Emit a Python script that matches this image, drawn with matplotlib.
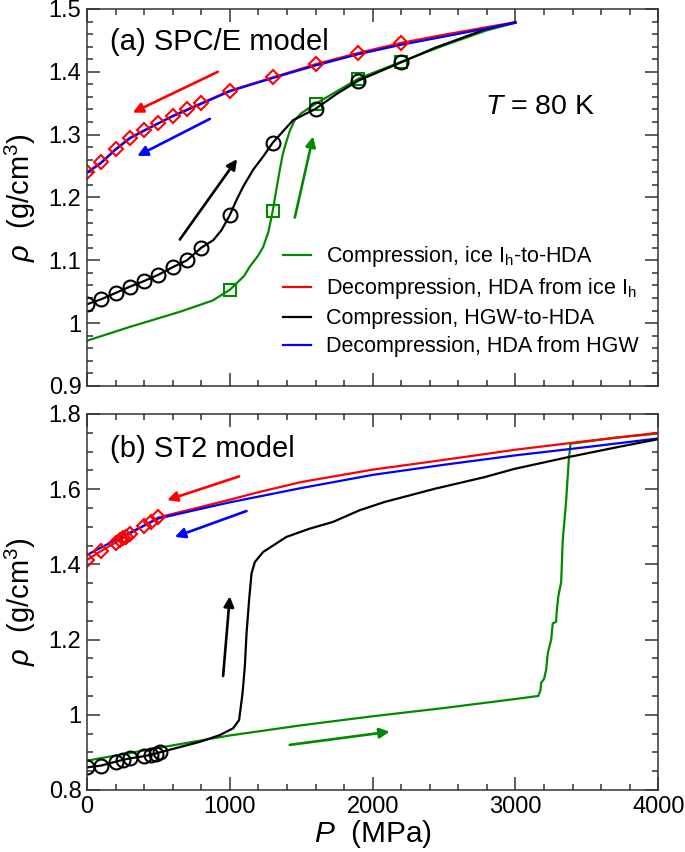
import matplotlib
matplotlib.use('Agg')
import matplotlib.pyplot as plt
from matplotlib.ticker import MultipleLocator, FuncFormatter

plt.rcParams['font.family'] = ['Liberation Sans', 'DejaVu Sans']
plt.rcParams['mathtext.fontset'] = 'custom'
plt.rcParams['mathtext.rm'] = 'Liberation Sans'
plt.rcParams['mathtext.it'] = 'Liberation Sans:italic'

GREEN = '#008a00'
RED = '#ff0000'
BLACK = '#000000'
BLUE = '#0000ff'

# ---- (a) SPC/E model ----
a_mark_P = [0, 100, 200, 300, 400, 500, 600, 700, 800, 1000, 1300, 1600, 1900, 2200]
a_red_mark = [1.240, 1.256, 1.277, 1.295, 1.307, 1.318, 1.330, 1.340, 1.350,
              1.370, 1.391, 1.412, 1.430, 1.446]
a_black_mark = [1.030, 1.038, 1.048, 1.058, 1.067, 1.077, 1.089, 1.100, 1.120,
                1.172, 1.287, 1.341, 1.386, 1.415]
a_sq_P = [1000, 1300, 1600, 1900, 2200]
a_green_mark = [1.053, 1.178, 1.348, 1.389, 1.416]

a_red_P = a_mark_P + [2500, 2800, 3000]
a_red = a_red_mark + [1.459, 1.471, 1.479]
a_blue = [1.239, 1.255, 1.276, 1.294, 1.306, 1.318, 1.329, 1.339, 1.349,
          1.369, 1.390, 1.410, 1.428, 1.443, 1.456, 1.469, 1.478]

a_black_P = [0, 100, 200, 300, 400, 500, 600, 700, 800, 884, 942, 1000, 1047,
             1093, 1163, 1233, 1300, 1443, 1600, 1750, 1900, 2200, 2434, 2783, 3000]
a_black = [1.030, 1.038, 1.048, 1.058, 1.067, 1.077, 1.089, 1.100, 1.120, 1.132,
           1.148, 1.172, 1.196, 1.217, 1.244, 1.265, 1.287, 1.323, 1.341, 1.365,
           1.386, 1.415, 1.438, 1.467, 1.479]

a_green_P = [0, 300, 650, 880, 1000, 1100, 1140, 1200, 1233, 1270, 1300, 1320,
             1350, 1370, 1392, 1420, 1454, 1500, 1600, 1900, 2200, 2500, 2800, 3000]
a_green = [0.972, 0.994, 1.018, 1.036, 1.053, 1.075, 1.090, 1.108, 1.121, 1.145,
           1.178, 1.205, 1.244, 1.268, 1.286, 1.306, 1.323, 1.334, 1.349, 1.389,
           1.416, 1.442, 1.466, 1.478]

# arrows: (P0, rho0, P1, rho1, colour)
a_arrows = [(916, 1.400, 320, 1.335, RED),
            (860, 1.325, 352, 1.266, BLUE),
            (650, 1.133, 1051, 1.261, BLACK),
            (1455, 1.168, 1583, 1.297, GREEN)]

# ---- (b) ST2 model ----
b_dia_P = [0, 100, 200, 230, 250, 270, 300, 400, 450, 500]
b_red_mark = [1.412, 1.436, 1.458, 1.465, 1.470, 1.474, 1.482, 1.503, 1.514, 1.525]
b_red_P = b_dia_P + [800, 1000, 1200, 1500, 2000, 2500, 3000, 3500, 4000]
b_red = b_red_mark + [1.553, 1.572, 1.592, 1.619, 1.652, 1.678, 1.705, 1.728, 1.750]

b_blue_P = [0, 250, 500, 800, 1000, 1500, 2000, 2500, 3000, 3500, 4000]
b_blue = [1.425, 1.475, 1.522, 1.548, 1.565, 1.603, 1.638, 1.665, 1.690, 1.712, 1.735]

b_circ_P = [0, 100, 200, 250, 300, 400, 450, 480, 510]
b_black_mark = [0.860, 0.865, 0.875, 0.880, 0.884, 0.890, 0.894, 0.897, 0.900]
b_black_P = b_circ_P + [790, 930, 1023, 1065, 1089, 1105, 1117, 1135, 1152, 1175,
                        1233, 1396, 1559, 1723, 1909, 2084, 2434, 2783, 2993,
                        3366, 3716, 4000]
b_black = b_black_mark + [0.928, 0.946, 0.964, 0.986, 1.057, 1.128, 1.216, 1.305,
                          1.376, 1.406, 1.433, 1.473, 1.495, 1.513, 1.544, 1.566,
                          1.601, 1.632, 1.654, 1.685, 1.712, 1.733]

b_green_P = [0, 500, 1000, 1500, 2000, 2500, 3000, 3160, 3175, 3180, 3200, 3215,
             3226, 3250, 3261, 3284, 3290, 3300, 3320, 3331, 3355, 3373, 3385,
             3700, 4000]
b_green = [0.878, 0.912, 0.945, 0.972, 0.996, 1.018, 1.042, 1.050, 1.065, 1.085,
           1.095, 1.120, 1.163, 1.200, 1.243, 1.247, 1.280, 1.315, 1.353, 1.464,
           1.570, 1.676, 1.721, 1.737, 1.748]

b_arrows = [(1065, 1.634, 561, 1.571, RED),
            (1117, 1.542, 615, 1.473, BLUE),
            (953, 1.103, 1000, 1.315, BLACK),
            (1420, 0.920, 2119, 0.955, GREEN)]

legend_labels = ['Compression, ice I$_\\mathrm{h}$-to-HDA',
                 'Decompression, HDA from ice I$_\\mathrm{h}$',
                 'Compression, HGW-to-HDA',
                 'Decompression, HDA from HGW']

fig = plt.figure(figsize=(6.85, 8.52), dpi=100)
ax1 = fig.add_axes([0.127, 0.547, 0.834, 0.4425])
ax2 = fig.add_axes([0.127, 0.0728, 0.834, 0.4413])

lw = 1.6
fmt = FuncFormatter(lambda v, p: '%g' % round(v, 6))


def style(ax, ymin, ymax, ymaj, ymin_step):
    ax.set_xlim(0, 4000)
    ax.set_ylim(ymin, ymax)
    ax.xaxis.set_major_locator(MultipleLocator(1000))
    ax.xaxis.set_minor_locator(MultipleLocator(200))
    ax.yaxis.set_major_locator(MultipleLocator(ymaj))
    ax.yaxis.set_minor_locator(MultipleLocator(ymin_step))
    ax.yaxis.set_major_formatter(fmt)
    ax.xaxis.set_major_formatter(fmt)
    ax.tick_params(which='both', direction='in', top=True, right=True,
                   labelsize=17, width=1.1, color='#333333', pad=4)
    ax.tick_params(which='major', length=9.5)
    ax.tick_params(which='minor', length=4.5)
    for s in ax.spines.values():
        s.set_linewidth(1.1)
        s.set_color('#333333')
    ax.set_ylabel(r'$\rho$  (g/cm$^3$)', fontsize=21)
    ax.yaxis.set_label_coords(-0.085, 0.5)


def arrows(ax, arr):
    for p0, r0, p1, r1, c in arr:
        ax.annotate('', xy=(p1, r1), xytext=(p0, r0),
                    arrowprops=dict(arrowstyle='-|>', color=c, lw=1.9,
                                    mutation_scale=15, shrinkA=0, shrinkB=0))


# panel (a)
l1, = ax1.plot(a_green_P, a_green, color=GREEN, lw=lw)
ax1.plot(a_sq_P, a_green_mark, ls='none', marker='s', ms=9, mfc='none',
         mec=GREEN, mew=1.5)
l2, = ax1.plot(a_red_P, a_red, color=RED, lw=lw)
l3, = ax1.plot(a_black_P, a_black, color=BLACK, lw=lw)
ax1.plot(a_mark_P, a_black_mark, ls='none', marker='o', ms=10, mfc='none',
         mec=BLACK, mew=1.5)
l4, = ax1.plot(a_red_P, a_blue, color=BLUE, lw=lw)
ax1.plot(a_mark_P, a_red_mark, ls='none', marker='D', ms=7, mfc='none',
         mec=RED, mew=1.5)
arrows(ax1, a_arrows)
style(ax1, 0.9, 1.5, 0.1, 0.02)
ax1.tick_params(labelbottom=False)
ax1.text(0.041, 0.891, '(a) SPC/E model', transform=ax1.transAxes,
         fontsize=21, va='baseline')
ax1.text(0.697, 0.7207, '$T$ = 80 K', transform=ax1.transAxes,
         fontsize=20.5, va='baseline')
ax1.legend([l1, l2, l3, l4], legend_labels, loc='center left',
           bbox_to_anchor=(0.343, 0.226), frameon=False, fontsize=15.5,
           handlelength=1.3, handletextpad=0.7, labelspacing=0.33,
           borderpad=0, borderaxespad=0)

# panel (b)
ax2.plot(b_green_P, b_green, color=GREEN, lw=lw)
ax2.plot(b_red_P, b_red, color=RED, lw=lw)
ax2.plot(b_blue_P, b_blue, color=BLUE, lw=lw)
ax2.plot(b_black_P, b_black, color=BLACK, lw=lw)
ax2.plot(b_circ_P, b_black_mark, ls='none', marker='o', ms=10, mfc='none',
         mec=BLACK, mew=1.5)
ax2.plot(b_dia_P, b_red_mark, ls='none', marker='D', ms=7, mfc='none',
         mec=RED, mew=1.5)
arrows(ax2, b_arrows)
style(ax2, 0.8, 1.8, 0.2, 0.05)
ax2.text(0.041, 0.885, '(b) ST2 model', transform=ax2.transAxes,
         fontsize=21, va='baseline')
ax2.set_xlabel(r'$P$  (MPa)', fontsize=21.5, labelpad=0)

fig.savefig('out.png', dpi=100, facecolor='w')
